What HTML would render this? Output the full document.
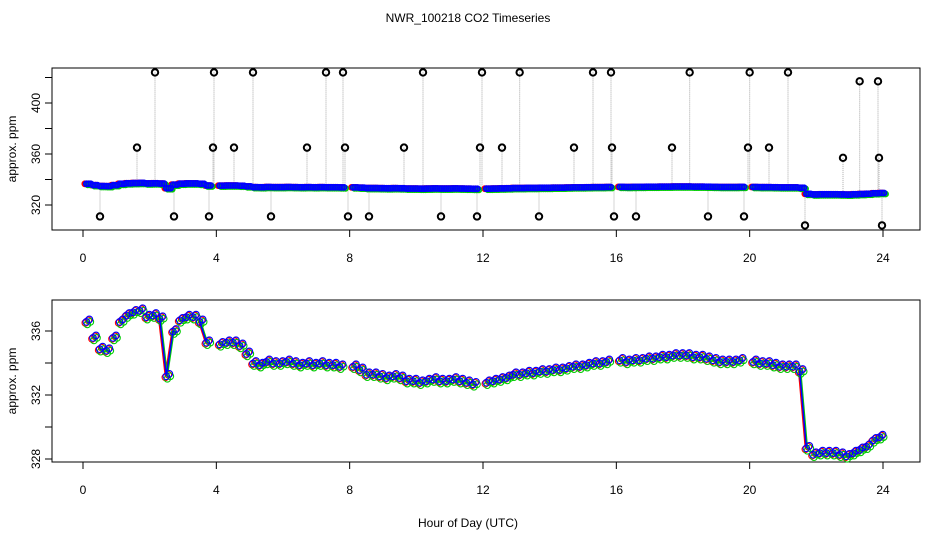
<!DOCTYPE html>
<html><head><meta charset="utf-8"><style>
html,body{margin:0;padding:0;background:#fff}
svg{display:block;font-family:"Liberation Sans",sans-serif}
</style></head><body>
<svg id="c" width="936" height="540" viewBox="0 0 936 540">
<text x="468" y="22" font-size="12" text-anchor="middle">NWR_100218  CO2 Timeseries</text>
<rect x="52" y="68" width="868" height="162" fill="none" stroke="#000"/>
<rect x="52" y="300" width="868" height="162" fill="none" stroke="#000"/>
<text x="468" y="527" font-size="12" text-anchor="middle">Hour of Day (UTC)</text>
<text transform="translate(16,149) rotate(-90)" font-size="12" text-anchor="middle">approx. ppm</text>
<text transform="translate(16,381) rotate(-90)" font-size="12" text-anchor="middle">approx. ppm</text>
<g id="g"></g>
</svg>
<script>
const xTicks=[0,4,8,12,16,20,24];
const topYTicks=[320,340,360,380,400,420];
const topYLabels=[320,360,400];
const botYTicks=[328,330,332,334,336];
const botYLabels=[328,332,336];
const hourStart=0.1, hourStep=0.2;
const co2=[336.6,335.6,334.9,334.8,335.6,336.6,337.0,337.2,337.3,336.9,337.0,336.8,333.2,336.0,336.7,336.9,336.9,336.6,335.3,null,
335.2,335.3,335.3,335.1,334.6,334.0,333.9,334.1,334.0,334.0,334.1,334.0,333.9,334.0,333.9,334.0,333.9,333.9,333.8,null,
333.8,333.6,333.3,333.3,333.2,333.1,333.2,333.1,332.9,332.9,332.8,332.9,333.0,332.9,332.9,333.0,332.9,332.8,332.7,null,
332.8,332.9,333.0,333.1,333.3,333.3,333.4,333.4,333.5,333.5,333.6,333.6,333.7,333.8,333.8,333.9,334.0,334.0,334.1,null,
334.2,334.1,334.2,334.2,334.3,334.3,334.4,334.4,334.5,334.5,334.5,334.4,334.4,334.3,334.2,334.1,334.1,334.1,334.2,null,
334.1,334.0,334.0,333.9,333.8,333.8,333.8,333.5,328.7,328.3,328.4,328.4,328.4,328.3,328.2,328.4,328.6,328.8,329.2,329.4];
const spikeHours=[2.16,3.93,5.1,7.29,7.8,10.2,11.97,13.1,15.3,15.84,18.2,20.0,21.15,
1.62,3.9,4.53,6.72,7.86,9.63,11.91,12.57,14.73,15.87,17.67,19.95,20.58,
0.51,2.73,3.78,5.64,7.95,8.58,10.74,11.82,13.68,15.93,16.59,18.75,19.83,
22.8,23.3,23.85,23.88,21.66,23.97];
const spikeValues=[424,424,424,424,424,424,424,424,424,424,424,424,424,
365,365,365,365,365,365,365,365,365,365,365,365,365,
311,311,311,311,311,311,311,311,311,311,311,311,311,
357,417,417,357,304,304];

const NS="http://www.w3.org/2000/svg";
const g=document.getElementById('g');
function mk(t,a,p){const e=document.createElementNS(NS,t);for(const k in a)e.setAttribute(k,a[k]);(p||g).appendChild(e);return e;}
const X=h=>83+h*(800/24);
const Yt=v=>205-(v-320)*1.275;
const Yb=v=>331-(v-336)*16;
const hourAt=i=>hourStart+i*hourStep;

[[230,250],[462,482]].forEach(([yb,yl])=>{
  xTicks.forEach(t=>{
    const l=mk('line',{x1:X(t),x2:X(t),y1:yb,y2:yb+7,stroke:'#000'});
    
    
    const tx=mk('text',{x:X(t),y:yl+12,'font-size':12,'text-anchor':'middle'});
    tx.textContent=t;
    
    
  });
});
topYTicks.forEach(v=>{
  const l=mk('line',{x1:45,x2:52,y1:Yt(v),y2:Yt(v),stroke:'#000'});
  
  
});
topYLabels.forEach(v=>{
  const t=mk('text',{transform:`translate(40,${Yt(v)}) rotate(-90)`,'font-size':12,'text-anchor':'middle'});
  t.textContent=v;
  
  
});
botYTicks.forEach(v=>{
  const l=mk('line',{x1:45,x2:52,y1:Yb(v),y2:Yb(v),stroke:'#000'});
  
  
});
botYLabels.forEach(v=>{
  const t=mk('text',{transform:`translate(40,${Yb(v)}) rotate(-90)`,'font-size':12,'text-anchor':'middle'});
  t.textContent=v;
  
  
});

function baseAt(h){const i=Math.max(0,Math.min(co2.length-1,Math.round((h-hourStart)/hourStep)));
  for(let d=0;d<4;d++){if(co2[i-d]!=null)return co2[i-d];if(co2[i+d]!=null)return co2[i+d];}return 334;}

spikeHours.forEach((h,i)=>{
  const l=mk('line',{x1:X(h),x2:X(h),y1:Yt(spikeValues[i]),y2:Yt(baseAt(h)),stroke:'#aaa','stroke-dasharray':'1,1'});
  
  
});

const layers=[['#f00',-1.5,0],['#0c0',1.5,1],['#00f',0,0]];
layers.forEach(([col,dx,dy])=>{
  co2.forEach((v,i)=>{
    if(v==null)return;
    for(let k=0;k<3;k++){
      const c=mk('circle',{cx:X(hourAt(i))+dx+k*2.2,cy:Yt(v)+dy,r:2.5,fill:'none',stroke:col,'stroke-width':1.8});
      
      
    }
  });
});
spikeHours.forEach((h,i)=>{
  const c=mk('circle',{cx:X(h),cy:Yt(spikeValues[i]),r:3.2,fill:'none',stroke:'#000','stroke-width':2});
  
  
});

const bl=[['#f00',-1,0.5],['#0c0',1,2],['#00f',0,-0.5]];
bl.forEach(([col,dx,dy])=>{
  let prev=null;
  co2.forEach((v,i)=>{
    if(v==null){prev=null;return;}
    const x=X(hourAt(i)),y=Yb(v);
    if(prev&&Math.abs(prev[1]-y)>20){
      const ln=mk('line',{x1:prev[0]+dx,y1:prev[1],x2:x+dx,y2:y,stroke:col,'stroke-width':1.5});
      
      
    }
    for(let k=0;k<2;k++){
      const c=mk('circle',{cx:x+dx+k*3,cy:y+dy+(k==1?-1.5:1),r:3.3,fill:'none',stroke:col,'stroke-width':1.1});
      
      
    }
    prev=[x,y];
  });
});
</script>
</body></html>
